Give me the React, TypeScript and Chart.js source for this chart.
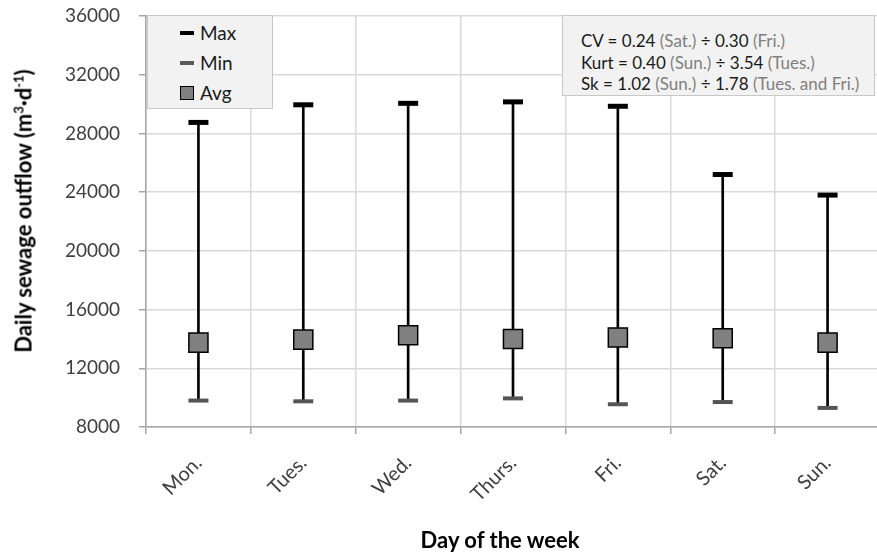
import React, { useEffect, useRef } from 'react';
import { Chart, registerables } from 'chart.js';

Chart.register(...registerables);

const days = ['Mon.', 'Tues.', 'Wed.', 'Thurs.', 'Fri.', 'Sat.', 'Sun.'];
const maxVals = [28750, 29950, 30050, 30150, 29850, 25200, 23800];
const minVals = [9800, 9750, 9800, 9950, 9550, 9700, 9300];
const avgVals = [13750, 13950, 14250, 14000, 14100, 14050, 13750];
const yMin = 8000;
const yMax = 36000;
const yStep = 4000;

const FONT = 'Lato, "Open Sans", sans-serif';

export default function App() {
  const ref = useRef<HTMLCanvasElement>(null);

  useEffect(() => {
    const chart = new Chart(ref.current as HTMLCanvasElement, {
      type: 'bar',
      data: {
        labels: days,
        datasets: [
          {
            type: 'bar',
            label: 'Range',
            data: days.map((_, i) => [minVals[i], maxVals[i]]) as any,
            backgroundColor: '#000000',
            borderWidth: 0,
            barThickness: 2,
            order: 3,
          } as any,
          {
            type: 'line',
            label: 'Max',
            data: maxVals,
            showLine: false,
            pointStyle: 'line',
            pointRadius: 10,
            pointBorderWidth: 5,
            pointBorderColor: '#000000',
            borderColor: '#000000',
            order: 1,
          } as any,
          {
            type: 'line',
            label: 'Min',
            data: minVals,
            showLine: false,
            pointStyle: 'line',
            pointRadius: 10,
            pointBorderWidth: 4,
            pointBorderColor: '#555555',
            borderColor: '#555555',
            order: 1,
          } as any,
          {
            type: 'line',
            label: 'Avg',
            data: avgVals,
            showLine: false,
            pointStyle: 'rect',
            pointRadius: 13.5,
            pointBackgroundColor: '#808080',
            pointBorderColor: '#000000',
            pointBorderWidth: 1.5,
            order: 0,
          } as any,
        ],
      },
      options: {
        responsive: false,
        animation: false,
        devicePixelRatio: 1,
        layout: { padding: { top: 16, right: 7, left: 0, bottom: 0 } },
        plugins: {
          legend: { display: false },
          tooltip: { enabled: false },
        },
        scales: {
          x: {
            offset: true,
            grid: {
              color: '#d9d9d9',
              lineWidth: 1.5,
              offset: true,
              tickColor: '#a6a6a6',
              tickLength: 7,
            },
            border: { color: '#a6a6a6', width: 1.5 },
            ticks: {
              maxRotation: 45,
              minRotation: 45,
              color: '#404040',
              padding: 17,
              font: { family: FONT, size: 20 },
            },
            afterFit: (s: any) => {
              s.height = 127;
              s.paddingLeft = 0;
              s.paddingRight = 0;
            },
          },
          y: {
            min: yMin,
            max: yMax,
            grid: {
              color: '#d9d9d9',
              lineWidth: 1.5,
              tickColor: '#a6a6a6',
              tickLength: 7,
            },
            border: { color: '#a6a6a6', width: 1.5 },
            ticks: {
              stepSize: yStep,
              color: '#404040',
              padding: 19,
              font: { family: FONT, size: 19 },
              callback: (v: any) => String(v),
            },
            afterFit: (s: any) => {
              s.width = 146;
              s.paddingTop = 0;
              s.paddingBottom = 0;
            },
          },
        },
      },
    });
    return () => chart.destroy();
  }, []);

  const boxStyle: React.CSSProperties = {
    position: 'absolute',
    background: '#f2f2f2',
    border: '1.5px solid #c8c8c8',
    boxSizing: 'border-box',
  };
  const legendText: React.CSSProperties = {
    position: 'absolute',
    left: 52,
    fontSize: 19,
    lineHeight: '20px',
    color: '#1a1a1a',
    transform: 'translateY(-50%)',
    whiteSpace: 'nowrap',
  };
  const gray = '#7f7f7f';
  const annLine: React.CSSProperties = {
    position: 'absolute',
    left: 18,
    fontSize: 17,
    lineHeight: '20px',
    color: '#1a1a1a',
    transform: 'translateY(-50%)',
    whiteSpace: 'nowrap',
  };

  return (
    <div
      style={{
        position: 'absolute',
        left: 0,
        top: 0,
        width: 877,
        height: 554,
        overflow: 'hidden',
        background: '#ffffff',
        fontFamily: FONT,
      }}
    >
      <canvas
        ref={ref}
        width={895}
        height={554}
        style={{ position: 'absolute', left: 0, top: 0, width: 895, height: 554 }}
      />
      {/* legend */}
      <div style={{ ...boxStyle, left: 147, top: 15, width: 126, height: 94 }}>
        <div style={{ position: 'absolute', left: 32, top: 15, width: 14, height: 4, background: '#000' }} />
        <div style={{ ...legendText, top: 17 }}>Max</div>
        <div style={{ position: 'absolute', left: 32, top: 45, width: 14, height: 4, background: '#595959' }} />
        <div style={{ ...legendText, top: 47 }}>Min</div>
        <div
          style={{
            position: 'absolute',
            left: 32,
            top: 70,
            width: 14,
            height: 14,
            background: '#808080',
            border: '1px solid #000',
            boxSizing: 'border-box',
          }}
        />
        <div style={{ ...legendText, top: 77 }}>Avg</div>
      </div>
      {/* statistics box */}
      <div style={{ ...boxStyle, left: 562, top: 15, width: 313, height: 81 }}>
        <div style={{ ...annLine, top: 25 }}>
          CV = 0.24 <span style={{ color: gray }}>(Sat.)</span> ÷ 0.30 <span style={{ color: gray }}>(Fri.)</span>
        </div>
        <div style={{ ...annLine, top: 47 }}>
          Kurt = 0.40 <span style={{ color: gray }}>(Sun.)</span> ÷ 3.54 <span style={{ color: gray }}>(Tues.)</span>
        </div>
        <div style={{ ...annLine, top: 68 }}>
          Sk = 1.02 <span style={{ color: gray }}>(Sun.)</span> ÷ 1.78{' '}
          <span style={{ color: gray }}>(Tues. and Fri.)</span>
        </div>
      </div>
      {/* axis titles */}
      <div
        style={{
          position: 'absolute',
          left: 23,
          top: 211,
          transform: 'translate(-50%, -50%) rotate(-90deg)',
          whiteSpace: 'nowrap',
          fontWeight: 'bold',
          fontSize: 22,
          color: '#000',
        }}
      >
        Daily sewage outflow (m<sup style={{ fontSize: 13 }}>3</sup>·d<sup style={{ fontSize: 13 }}>-1</sup>)
      </div>
      <div
        style={{
          position: 'absolute',
          left: 500,
          top: 539,
          transform: 'translate(-50%, -50%)',
          whiteSpace: 'nowrap',
          fontWeight: 'bold',
          fontSize: 22,
          color: '#000',
        }}
      >
        Day of the week
      </div>
    </div>
  );
}
